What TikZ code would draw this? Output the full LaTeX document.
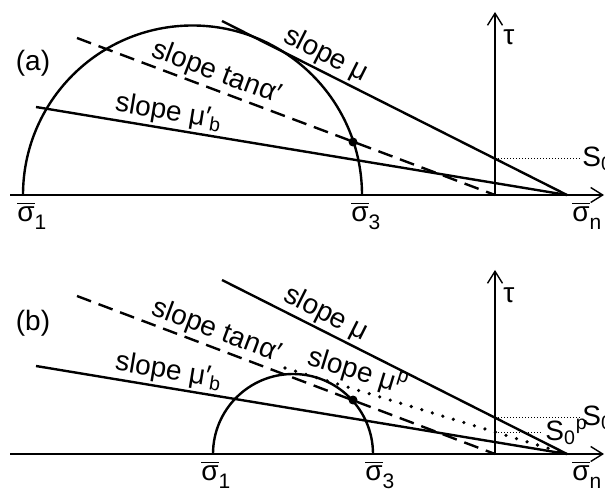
\documentclass[tikz,border=0pt]{standalone}
\usepackage{amsmath, amssymb}
\usepackage{fontspec}
\setmainfont{Liberation Sans}
\usetikzlibrary{arrows.meta}

\newcommand{\sigb}[1]{$\overline{\hbox{σ}}$\raisebox{-4pt}{\fontsize{10.5}{12}\selectfont #1}}

\tikzset{
  axis/.style={line width=0.7pt, -{Straight Barb[length=6pt,width=7.5pt]}},
  fline/.style={line width=1.2pt},
  dline/.style={line width=1.2pt, dash pattern=on 7.5pt off 4pt},
  pline/.style={line width=1.8pt, dash pattern=on 0pt off 5.5pt, line cap=round},
  sline/.style={line width=0.5pt, densely dotted},
  lab/.style={font=\fontsize{14}{16}\selectfont, inner sep=1pt},
}

\begin{document}
\begin{tikzpicture}[x=0.5pt, y=0.5pt]
        \useasboundingbox (0,0) rectangle (605,493);
        % panel (a)
        \coordinate (xla) at (10,298);
        \coordinate (xra) at (604,298);
        \coordinate (Oa) at (495,298);
        \coordinate (ta) at (495,481);
        \coordinate (s1a) at (23,298);
        \coordinate (s3a) at (362,298);
        \coordinate (sna) at (567,298);
        \coordinate (mua) at (222,472);
        \coordinate (ala) at (77,455);
        \coordinate (mba) at (36,386);
        \coordinate (dota) at (353,351);
        \coordinate (S0a) at (495,334.3);
        \coordinate (S0ea) at (580,334.3);
        \draw[axis] (xla) -- (xra);
        \draw[axis] (Oa) -- (ta);
        \draw[fline] (s1a) arc[start angle=180, end angle=0, radius=169.5];
        \draw[fline] (mua) -- (sna) node[lab, pos=0.28, sloped, above] (lmua) {slope μ};
        \draw[dline] (ala) -- (Oa) node[lab, pos=0.32, sloped, above] (lala) {slope tanα′};
        \draw[fline] (mba) -- (sna) node[lab, pos=0.245, sloped, above] (lmba) {slope μ′\textsubscript{b}};
        \fill (dota) circle (4.5);
        \draw[sline] (S0a) -- (S0ea);
        \node[lab, anchor=west] (S0la) at (S0ea) {S\textsubscript{0}};
        \node[lab, anchor=west] (taua) at (501,456) {τ};
        \node[lab] (pa) at (33,430) {(a)};
        \node[lab, anchor=north west] (l1a) at (15,294) {\sigb{1}};
        \node[lab, anchor=north west] (l3a) at (349,294) {\sigb{3}};
        \node[lab, anchor=north west] (lna) at (570,294) {\sigb{n}};
        % panel (b)
        \coordinate (xlb) at (10,39);
        \coordinate (xrb) at (604,39);
        \coordinate (Ob) at (495,39);
        \coordinate (tb) at (495,223);
        \coordinate (s1b) at (213,39);
        \coordinate (s3b) at (373,39);
        \coordinate (snb) at (567,39);
        \coordinate (mub) at (222,213);
        \coordinate (alb) at (77,197);
        \coordinate (mbb) at (36,127);
        \coordinate (mpb) at (285,125);
        \coordinate (dotb) at (353,93);
        \coordinate (S0b) at (495,75.3);
        \coordinate (S0eb) at (580,75.3);
        \coordinate (Spb) at (495,61);
        \coordinate (Speb) at (543,61);
        \draw[axis] (xlb) -- (xrb);
        \draw[axis] (Ob) -- (tb);
        \draw[fline] (s1b) arc[start angle=180, end angle=0, radius=80];
        \draw[fline] (mub) -- (snb) node[lab, pos=0.28, sloped, above] (lmub) {slope μ};
        \draw[dline] (alb) -- (Ob) node[lab, pos=0.32, sloped, above] (lalb) {slope tanα′};
        \draw[fline] (mbb) -- (snb) node[lab, pos=0.245, sloped, above] (lmbb) {slope μ′\textsubscript{b}};
        \draw[pline] (mpb) -- (snb) node[lab, pos=0.24, sloped, above] (lmpb) {slope μ\textsuperscript{p}};
        \fill (dotb) circle (4.5);
        \draw[sline] (S0b) -- (S0eb);
        \draw[sline] (Spb) -- (Speb);
        \node[lab, anchor=west] (S0lb) at (S0eb) {S\textsubscript{0}};
        \node[lab, anchor=west] (Splb) at (Speb) {S\textsubscript{0}\textsuperscript{p}};
        \node[lab, anchor=west] (taub) at (501,198) {τ};
        \node[lab] (pb) at (33,170) {(b)};
        \node[lab, anchor=north west] (l1b) at (199,35) {\sigb{1}};
        \node[lab, anchor=north west] (l3b) at (363,35) {\sigb{3}};
        \node[lab, anchor=north west] (lnb) at (570,35) {\sigb{n}};
      \end{tikzpicture}
\end{document}
